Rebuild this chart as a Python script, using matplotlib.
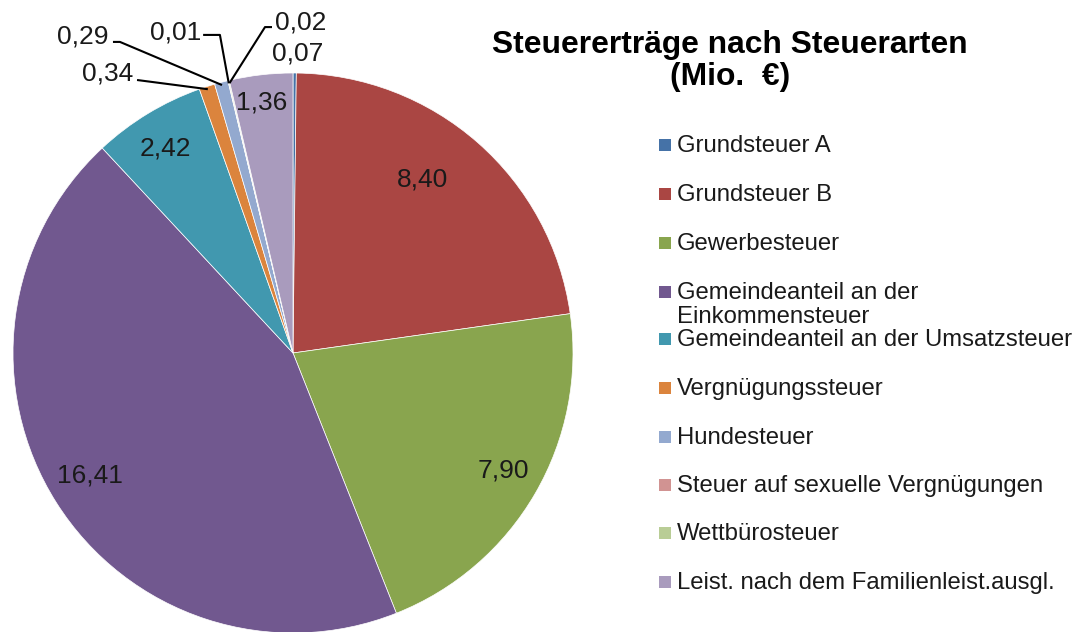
import numpy as np
import matplotlib
matplotlib.use("Agg")
import matplotlib.pyplot as plt
from matplotlib.patches import Rectangle

plt.rcParams['font.family'] = ['Liberation Sans', 'DejaVu Sans']

categories = ["Grundsteuer A", "Grundsteuer B", "Gewerbesteuer",
              "Gemeindeanteil an der\nEinkommensteuer",
              "Gemeindeanteil an der Umsatzsteuer", "Vergnügungssteuer",
              "Hundesteuer", "Steuer auf sexuelle Vergnügungen",
              "Wettbürosteuer", "Leist. nach dem Familienleist.ausgl."]
values = [0.07, 8.40, 7.90, 16.41, 2.42, 0.34, 0.29, 0.01, 0.02, 1.36]
colors = ["#4572A7", "#AA4643", "#89A54E", "#71588F", "#4198AF",
          "#DB843D", "#93A9CF", "#D19392", "#B9CD96", "#A99BBD"]
title = "Steuererträge nach Steuerarten\n(Mio.  €)"

W, H = 1081, 632
fig = plt.figure(figsize=(W / 100, H / 100), dpi=100)

# pie axes: centre (293,353) px, radius 280 px
cx, cy, r = 293, 353, 280
ax = fig.add_axes([(cx - r) / W, (H - cy - r) / H, 2 * r / W, 2 * r / H])
wedges, _ = ax.pie(values, colors=colors, startangle=90, counterclock=False,
                   radius=1.0, wedgeprops=dict(edgecolor='white', linewidth=0.5))
ax.set_xlim(-1, 1)
ax.set_ylim(-1, 1)
ax.set_aspect('equal')
ax.axis('off')

def fmt(v):
    return f"{v:.2f}".replace('.', ',')

# label positions (data coords) for large slices (inside)
inside_pos = {0: (0.016, 1.068), 1: (0.461, 0.618), 2: (0.75, -0.418),
              3: (-0.725, -0.436), 4: (-0.457, 0.732), 9: (-0.111, 0.893)}
fs = 19
for i, (x, y) in inside_pos.items():
    ax.text(x, y, fmt(values[i]), ha='center', va='center', fontsize=fs,
            color='#1a1a1a', clip_on=False)

# leader-line labels: text pos, path points (start, elbow)
leader = {
    5: ((-0.661, 1.000), [(-0.557, 0.975)]),
    6: ((-0.750, 1.129), [(-0.643, 1.111), (-0.618, 1.111)]),
    7: ((-0.418, 1.146), [(-0.321, 1.136), (-0.261, 1.136)]),
    8: ((0.028, 1.182), [(-0.075, 1.164), (-0.100, 1.164)]),
}
for i, (tpos, pts) in leader.items():
    w = wedges[i]
    mid = np.deg2rad((w.theta1 + w.theta2) / 2)
    end = (np.cos(mid) * 0.99, np.sin(mid) * 0.99)
    path = pts + [end]
    xs, ys = zip(*path)
    ax.plot(xs, ys, color='black', lw=1.5, clip_on=False, solid_capstyle='butt')
    ax.text(tpos[0], tpos[1], fmt(values[i]), ha='center', va='center',
            fontsize=fs, color='#1a1a1a', clip_on=False)

# overlay axes in pixel coordinates for title and legend
ov = fig.add_axes([0, 0, 1, 1], zorder=-1)
ov.set_xlim(0, W)
ov.set_ylim(H, 0)
ov.axis('off')

ov.text(730, 61, title, ha='center', va='center', fontsize=22.9,
        fontweight='bold', color='black', linespacing=1.05)

leg_y = [145, 194, 243, 292, 339, 388, 437, 485, 533, 582]
for yy, lab, col in zip(leg_y, categories, colors):
    ov.add_patch(Rectangle((659, yy - 6), 12, 12, facecolor=col, edgecolor='none'))
    ov.text(677, yy - 10, lab, ha='left', va='top', fontsize=17.2,
            color='#1a1a1a', linespacing=1.12)

fig.savefig("out.png", dpi=100)
